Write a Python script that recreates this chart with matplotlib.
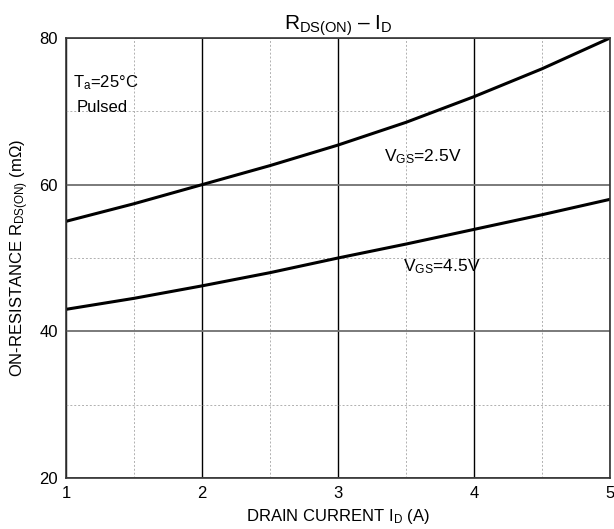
import matplotlib
import matplotlib.pyplot as plt
import numpy as np

matplotlib.use("Agg")

plt.rcParams["font.family"] = ["Liberation Sans", "DejaVu Sans"]
plt.rcParams["mathtext.fontset"] = "custom"
plt.rcParams["mathtext.rm"] = "Liberation Sans"
plt.rcParams["mathtext.default"] = "regular"

# drain current (A)
id_a = [1.0, 1.5, 2.0, 2.5, 3.0, 3.5, 4.0, 4.5, 5.0]
# on-resistance (mOhm)
rds_vgs25 = [55.0, 57.4, 60.0, 62.6, 65.4, 68.5, 72.0, 75.8, 80.0]
rds_vgs45 = [43.0, 44.5, 46.2, 48.0, 50.0, 51.9, 53.9, 55.9, 58.0]

fig = plt.figure(figsize=(6.14, 5.29), dpi=100)
ax = fig.add_axes([66 / 614, 1 - 478 / 529, 544 / 614, 440 / 529])

ax.set_xlim(1, 5)
ax.set_ylim(20, 80)
ax.set_xticks([1, 2, 3, 4, 5])
ax.set_yticks([20, 40, 60, 80])
ax.set_xticks([1.5, 2.5, 3.5, 4.5], minor=True)
ax.set_yticks([30, 50, 70], minor=True)
ax.tick_params(which="both", length=0, labelsize=12, pad=6)

ax.grid(which="minor", color="#b0b0b0", linestyle=(0, (2, 2)), linewidth=0.7)
ax.grid(which="major", axis="x", color="black", linewidth=1.0)
ax.grid(which="major", axis="y", color="#707070", linewidth=1.3)
for sp in ax.spines.values():
    sp.set_color("#333333")
    sp.set_linewidth(1.2)

ax.plot(id_a, rds_vgs25, color="black", linewidth=2.2)
ax.plot(id_a, rds_vgs45, color="black", linewidth=2.2)

ax.text(3.34, 63.2, "$V_{GS}$=2.5V", fontsize=12.5)
ax.text(3.48, 48.2, "$V_{GS}$=4.5V", fontsize=12.5)
ax.text(1.05, 73.3, "T$_a$=25°C", fontsize=12)
ax.text(1.08, 69.9, "Pulsed", fontsize=12)

ax.set_title("$R_{DS(ON)}$ \u2013 $I_D$", fontsize=15, pad=5)
ax.set_xlabel("DRAIN CURRENT $I_D$ (A)", fontsize=12, labelpad=4)
ax.set_ylabel("ON-RESISTANCE $R_{DS(ON)}$ (m\u03a9)", fontsize=12, labelpad=6)

fig.savefig("out.png", dpi=100)
